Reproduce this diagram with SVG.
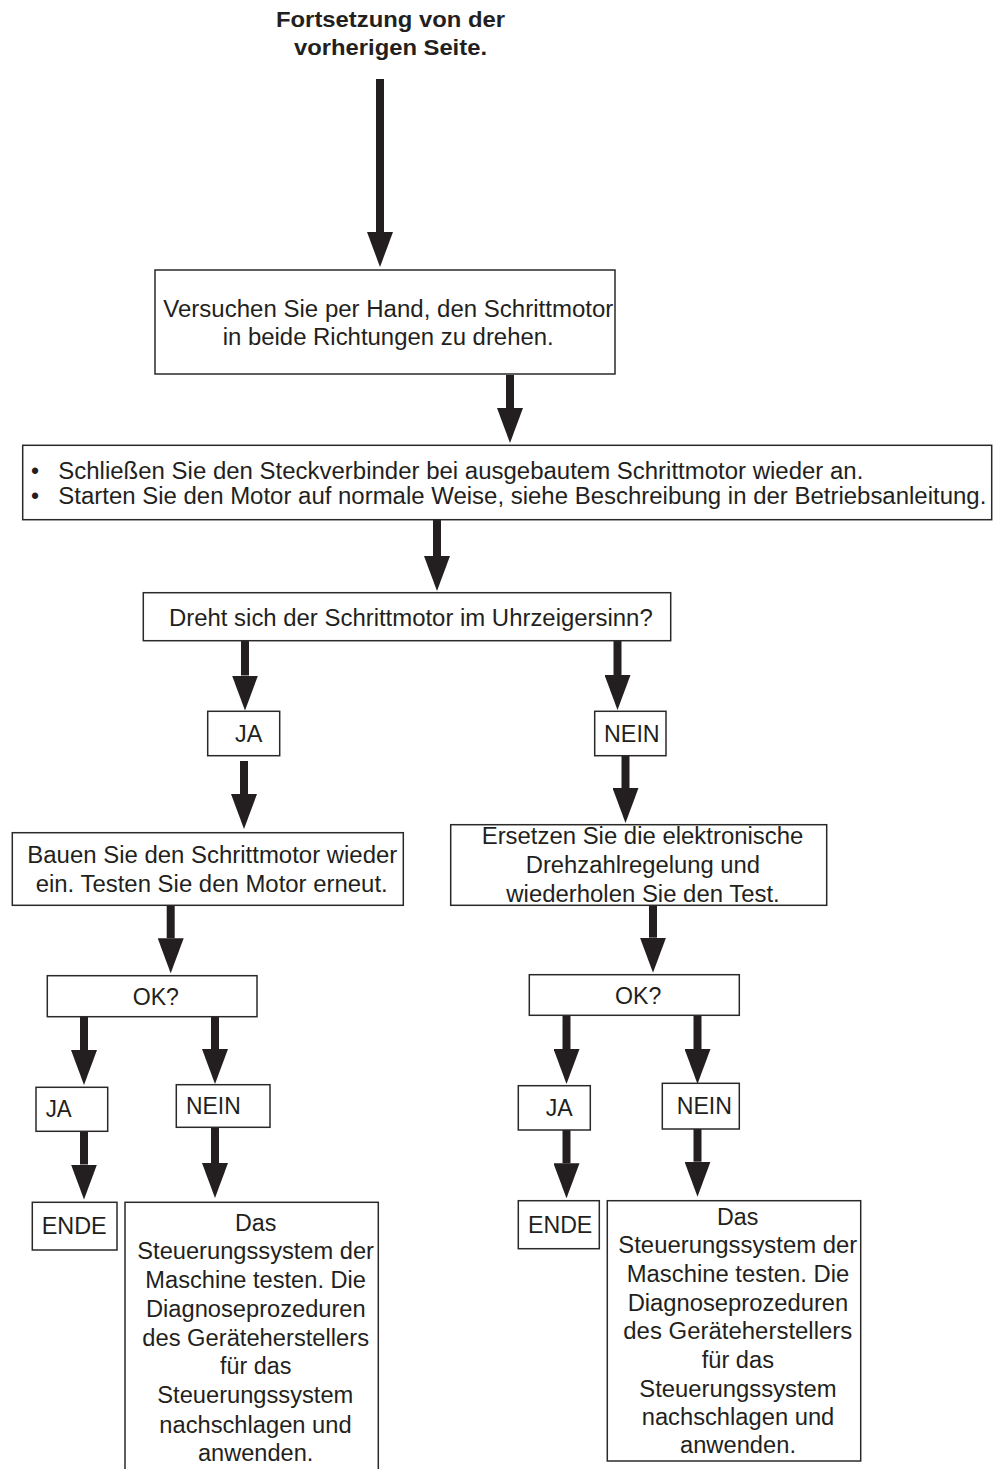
<svg xmlns="http://www.w3.org/2000/svg" width="994" height="1469" viewBox="0 0 994 1469">
<style>
.box{fill:#fff;stroke:#2b2828;stroke-width:1.5}
.t{font-family:"Liberation Sans",Arial,sans-serif;font-size:23px;fill:#231f20}
.tb{font-family:"Liberation Sans",Arial,sans-serif;font-size:22px;font-weight:bold;fill:#231f20}
.c{stroke:#231f20;stroke-width:8;fill:none;marker-end:url(#ah)}
</style>
<defs>
<marker id="ah" markerUnits="userSpaceOnUse" markerWidth="35" markerHeight="26" refX="0" refY="13" orient="auto">
<path d="M0,0 L35,13 L0,26 Z" fill="#231f20"/>
</marker>
</defs>
<rect width="994" height="1469" fill="#fff"/>
<g id="title">
<text class="tb" x="276" y="27" textLength="229" lengthAdjust="spacingAndGlyphs">Fortsetzung von der</text>
<text class="tb" x="294" y="55" textLength="193" lengthAdjust="spacingAndGlyphs">vorherigen Seite.</text>
</g>
<g id="connectors">
<line class="c" x1="380" y1="79" x2="380" y2="232"/>
<line class="c" x1="510" y1="375" x2="510" y2="408"/>
<line class="c" x1="437" y1="520" x2="437" y2="556"/>
<line class="c" x1="245" y1="641" x2="245" y2="675.5"/>
<line class="c" x1="244" y1="761" x2="244" y2="794"/>
<line class="c" x1="170.7" y1="905" x2="170.7" y2="938.3"/>
<line class="c" x1="84" y1="1017" x2="84" y2="1050"/>
<line class="c" x1="215" y1="1017" x2="215" y2="1049"/>
<line class="c" x1="84" y1="1132" x2="84" y2="1164.5"/>
<line class="c" x1="215" y1="1128" x2="215" y2="1163"/>
<line class="c" x1="617.5" y1="641" x2="617.5" y2="675"/>
<line class="c" x1="625.5" y1="756" x2="625.5" y2="788"/>
<line class="c" x1="653" y1="905" x2="653" y2="937.7"/>
<line class="c" x1="566.5" y1="1016" x2="566.5" y2="1049"/>
<line class="c" x1="697.5" y1="1016" x2="697.5" y2="1049"/>
<line class="c" x1="566.5" y1="1130" x2="566.5" y2="1163.3"/>
<line class="c" x1="697.5" y1="1129" x2="697.5" y2="1161.7"/>
</g>
<g id="box1">
<rect class="box" x="155" y="270" width="460" height="104"/>
<text class="t" x="163.3" y="316.5" textLength="450" lengthAdjust="spacingAndGlyphs">Versuchen Sie per Hand, den Schrittmotor</text>
<text class="t" x="222.7" y="345" textLength="331" lengthAdjust="spacingAndGlyphs">in beide Richtungen zu drehen.</text>
</g>
<g id="box2">
<rect class="box" x="22.7" y="445.3" width="969" height="74.4"/>
<text class="t" x="31" y="479">•</text>
<text class="t" x="31" y="504">•</text>
<text class="t" x="58.3" y="479" textLength="805" lengthAdjust="spacingAndGlyphs">Schließen Sie den Steckverbinder bei ausgebautem Schrittmotor wieder an.</text>
<text class="t" x="58.3" y="504" textLength="928" lengthAdjust="spacingAndGlyphs">Starten Sie den Motor auf normale Weise, siehe Beschreibung in der Betriebsanleitung.</text>
</g>
<g id="box3">
<rect class="box" x="143.3" y="592.7" width="527.4" height="48"/>
<text class="t" x="169" y="626" textLength="483.7" lengthAdjust="spacingAndGlyphs">Dreht sich der Schrittmotor im Uhrzeigersinn?</text>
</g>
<g id="ja1">
<rect class="box" x="207.7" y="711.3" width="72" height="44.4"/>
<text class="t" x="235" y="741.7" textLength="27.3" lengthAdjust="spacingAndGlyphs">JA</text>
</g>
<g id="nein1">
<rect class="box" x="594.7" y="711.3" width="71.3" height="44.4"/>
<text class="t" x="604" y="741.7" textLength="55.7" lengthAdjust="spacingAndGlyphs">NEIN</text>
</g>
<g id="box4">
<rect class="box" x="12.3" y="832.7" width="391" height="72.6"/>
<text class="t" x="27.3" y="863.3" textLength="370" lengthAdjust="spacingAndGlyphs">Bauen Sie den Schrittmotor wieder</text>
<text class="t" x="35.7" y="891.7" textLength="352" lengthAdjust="spacingAndGlyphs">ein. Testen Sie den Motor erneut.</text>
</g>
<g id="box5">
<rect class="box" x="450.7" y="824.7" width="376" height="80.6"/>
<text class="t" x="481.7" y="844" textLength="321.6" lengthAdjust="spacingAndGlyphs">Ersetzen Sie die elektronische</text>
<text class="t" x="525.7" y="873.3" textLength="234.3" lengthAdjust="spacingAndGlyphs">Drehzahlregelung und</text>
<text class="t" x="506.3" y="901.7" textLength="273.4" lengthAdjust="spacingAndGlyphs">wiederholen Sie den Test.</text>
</g>
<g id="ok1">
<rect class="box" x="47.3" y="975.7" width="209.7" height="41"/>
<text class="t" x="132.7" y="1005" textLength="46.3" lengthAdjust="spacingAndGlyphs">OK?</text>
</g>
<g id="ok2">
<rect class="box" x="529.3" y="974.7" width="210" height="40.6"/>
<text class="t" x="615" y="1004" textLength="46.3" lengthAdjust="spacingAndGlyphs">OK?</text>
</g>
<g id="ja2">
<rect class="box" x="36" y="1087.3" width="71.7" height="44"/>
<text class="t" x="45.7" y="1116.7" textLength="26" lengthAdjust="spacingAndGlyphs">JA</text>
</g>
<g id="nein2">
<rect class="box" x="176.3" y="1084.7" width="93.7" height="42.6"/>
<text class="t" x="186" y="1114.3" textLength="54.7" lengthAdjust="spacingAndGlyphs">NEIN</text>
</g>
<g id="ja3">
<rect class="box" x="518.3" y="1085.7" width="72" height="44.3"/>
<text class="t" x="545.7" y="1116" textLength="27" lengthAdjust="spacingAndGlyphs">JA</text>
</g>
<g id="nein3">
<rect class="box" x="662.3" y="1083.3" width="77" height="45.7"/>
<text class="t" x="676.7" y="1114.3" textLength="55.3" lengthAdjust="spacingAndGlyphs">NEIN</text>
</g>
<g id="ende1">
<rect class="box" x="32.3" y="1202.3" width="84.7" height="47.7"/>
<text class="t" x="41.7" y="1234.3" textLength="65" lengthAdjust="spacingAndGlyphs">ENDE</text>
</g>
<g id="ende2">
<rect class="box" x="518.3" y="1200.7" width="81" height="48"/>
<text class="t" x="528" y="1233.3" textLength="64.3" lengthAdjust="spacingAndGlyphs">ENDE</text>
</g>
<g id="test1">
<rect class="box" x="125" y="1202.3" width="253.3" height="280"/>
<text class="t" x="235" y="1230.7" textLength="41.3" lengthAdjust="spacingAndGlyphs">Das</text>
<text class="t" x="137.3" y="1259.3" textLength="236.7" lengthAdjust="spacingAndGlyphs">Steuerungssystem der</text>
<text class="t" x="145.3" y="1288.3" textLength="220.7" lengthAdjust="spacingAndGlyphs">Maschine testen. Die</text>
<text class="t" x="146" y="1317.3" textLength="219.7" lengthAdjust="spacingAndGlyphs">Diagnoseprozeduren</text>
<text class="t" x="142.3" y="1345.7" textLength="226.7" lengthAdjust="spacingAndGlyphs">des Geräteherstellers</text>
<text class="t" x="220" y="1374.3" textLength="71.3" lengthAdjust="spacingAndGlyphs">für das</text>
<text class="t" x="157.3" y="1403.3" textLength="196" lengthAdjust="spacingAndGlyphs">Steuerungssystem</text>
<text class="t" x="159.3" y="1432.7" textLength="192.3" lengthAdjust="spacingAndGlyphs">nachschlagen und</text>
<text class="t" x="198" y="1461" textLength="115.3" lengthAdjust="spacingAndGlyphs">anwenden.</text>
</g>
<g id="test2">
<rect class="box" x="607.3" y="1200.7" width="253.4" height="260.3"/>
<text class="t" x="717" y="1225" textLength="41.3" lengthAdjust="spacingAndGlyphs">Das</text>
<text class="t" x="618.3" y="1253.3" textLength="239" lengthAdjust="spacingAndGlyphs">Steuerungssystem der</text>
<text class="t" x="626.7" y="1281.7" textLength="222.6" lengthAdjust="spacingAndGlyphs">Maschine testen. Die</text>
<text class="t" x="627.7" y="1310.7" textLength="220.6" lengthAdjust="spacingAndGlyphs">Diagnoseprozeduren</text>
<text class="t" x="623.3" y="1339" textLength="229" lengthAdjust="spacingAndGlyphs">des Geräteherstellers</text>
<text class="t" x="701.7" y="1367.7" textLength="72.3" lengthAdjust="spacingAndGlyphs">für das</text>
<text class="t" x="639.3" y="1396.7" textLength="197.4" lengthAdjust="spacingAndGlyphs">Steuerungssystem</text>
<text class="t" x="641.7" y="1425" textLength="192.6" lengthAdjust="spacingAndGlyphs">nachschlagen und</text>
<text class="t" x="680" y="1453.3" textLength="116" lengthAdjust="spacingAndGlyphs">anwenden.</text>
</g>
</svg>
